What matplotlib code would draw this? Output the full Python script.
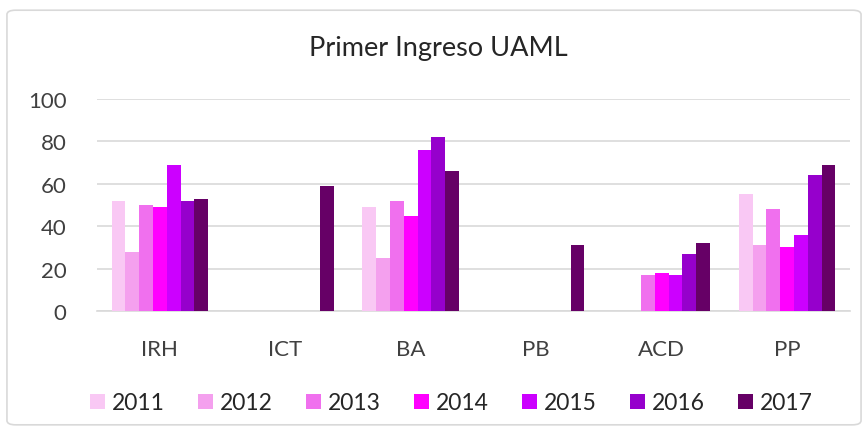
import numpy as np
import matplotlib.pyplot as plt
from matplotlib.patches import FancyBboxPatch

plt.rcParams['font.family'] = ['Lato', 'DejaVu Sans']

categories = ['IRH', 'ICT', 'BA', 'PB', 'ACD', 'PP']
years = ['2011', '2012', '2013', '2014', '2015', '2016', '2017']
values = {
    '2011': [52, 0, 49, 0, 0, 55],
    '2012': [28, 0, 25, 0, 0, 31],
    '2013': [50, 0, 52, 0, 17, 48],
    '2014': [49, 0, 45, 0, 18, 30],
    '2015': [69, 0, 76, 0, 17, 36],
    '2016': [52, 0, 82, 0, 27, 64],
    '2017': [53, 59, 66, 31, 32, 69],
}
colors = ['#F9C8F4', '#F4A0EE', '#F070EE', '#FF00FF', '#CC00FF', '#9600CC', '#660066']

fig = plt.figure(figsize=(8.68, 4.31), dpi=100)
ax = fig.add_axes([0.112, 0.276, 0.867, 0.492])

# marco del gráfico
fig.patches.append(FancyBboxPatch((0.008, 0.012), 0.984, 0.962, boxstyle='round,pad=0,rounding_size=0.01',
                                  transform=fig.transFigure, fill=False, edgecolor='#D9D9D9', linewidth=1.2))

x = np.arange(len(categories))
bw = 0.11
for i, yr in enumerate(years):
    offs = (i - 3) * bw
    ax.bar(x + offs, values[yr], width=bw, color=colors[i], label=yr, zorder=3)

ax.set_xlim(-0.5, len(categories) - 0.5)
ax.set_ylim(0, 100)
ax.set_yticks(range(0, 101, 20))
ax.set_xticks(x)
ax.set_xticklabels(categories)
ax.yaxis.grid(True, color='#D9D9D9', linewidth=1.2, zorder=0)
ax.tick_params(axis='both', length=0, labelsize=16, labelcolor='#404040')
ax.tick_params(axis='x', pad=20)
ax.tick_params(axis='y', pad=22)
for s in ['top', 'right', 'left']:
    ax.spines[s].set_visible(False)
ax.spines['bottom'].set_color('#D9D9D9')
ax.spines['bottom'].set_linewidth(1.2)

fig.text(0.505, 0.888, 'Primer Ingreso UAML', ha='center', va='center', fontsize=19.5, color='#262626')

fig.legend(loc='center', bbox_to_anchor=(0.52, 0.063), ncol=7, frameon=False,
           fontsize=16.5, labelcolor='#262626', handlelength=0.65, handleheight=0.65,
           handletextpad=0.3, columnspacing=1.45)

fig.savefig('out.png', dpi=100, facecolor='white')
